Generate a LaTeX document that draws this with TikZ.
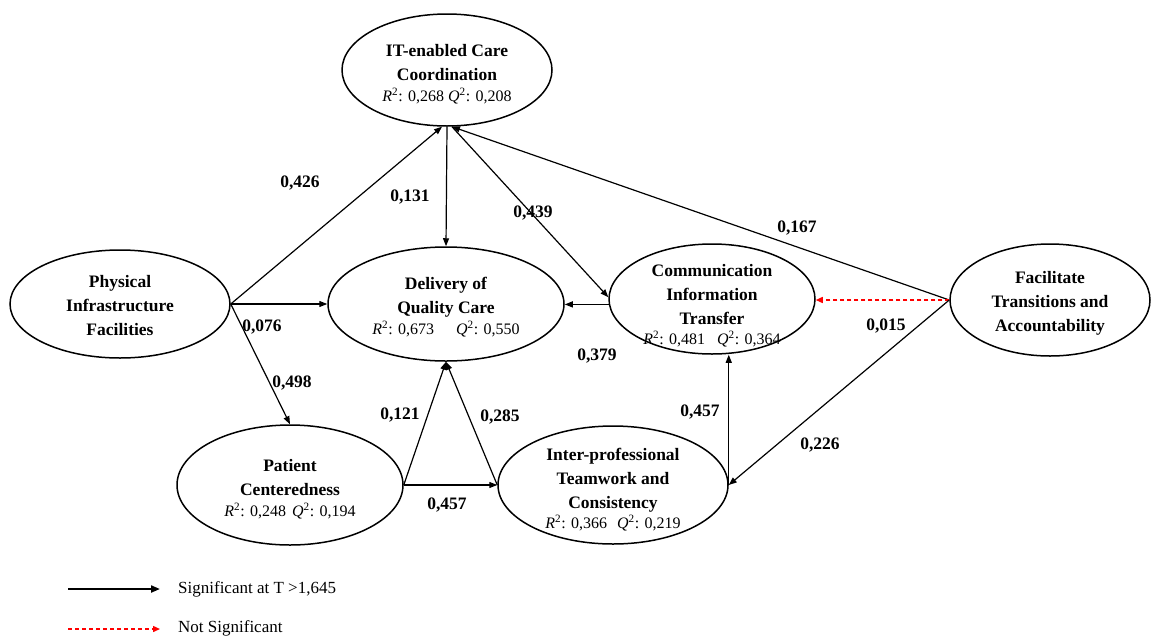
\documentclass[tikz,border=0pt]{standalone}
\usepackage{fontspec}
\setmainfont{Liberation Serif}
\usetikzlibrary{arrows.meta,shapes.geometric}
\newcommand{\RQline}[3]{{\mdseries\fontsize{16}{20}\selectfont\textit{R}\textsuperscript{2}: #1#2\textit{Q}\textsuperscript{2}: #3}}
\tikzset{
  lv/.style={ellipse, draw, line width=1.5pt, inner sep=0pt},
  txt/.style={align=center, inner sep=0pt, font=\fontsize{17.5}{24}\selectfont\bfseries},
  pth/.style={line width=1.2pt, -{Triangle[length=8pt,width=6pt]}},
  ns/.style={line width=1.4pt, red, dash pattern=on 4pt off 3pt, -{Triangle[length=7pt,width=6pt]}},
  coef/.style={inner sep=0pt, font=\fontsize{17.5}{20}\selectfont\bfseries},
  leg/.style={inner sep=0pt, anchor=west, font=\fontsize{17}{20}\selectfont},
}
\begin{document}
\begin{tikzpicture}[x=1pt,y=-1pt]
\useasboundingbox (0,0) rectangle (1161,635);
% constructs
\node[lv, minimum width=210pt, minimum height=112pt] (it)  at (447,70) {};
\node[lv, minimum width=220pt, minimum height=108pt] (phy) at (120,304) {};
\node[lv, minimum width=236pt, minimum height=114pt] (del) at (446,304) {};
\node[lv, minimum width=206pt, minimum height=110pt] (com) at (712,299) {};
\node[lv, minimum width=200pt, minimum height=112pt] (fac) at (1050,300) {};
\node[lv, minimum width=226pt, minimum height=120pt] (pat) at (290,485) {};
\node[lv, minimum width=230pt, minimum height=118pt] (int) at (613,485) {};
% texts
\node[txt] (itt)  at (447,74)  {IT-enabled Care\\Coordination\\[-3pt]\RQline{0,268}{ }{0,208}};
\node[txt] (phyt) at (120,306) {Physical\\Infrastructure\\Facilities};
\node[txt] (delt) at (446,307) {Delivery of\\Quality Care\\[-3pt]\RQline{0,673}{\hspace{22pt}}{0,550}};
\node[txt] (comt) at (712,306) {Communication\\Information\\Transfer\\[-4pt]\RQline{0,481}{\hspace{12pt}}{0,364}};
\node[txt] (fact) at (1050,303) {Facilitate\\Transitions and\\Accountability};
\node[txt] (patt) at (290,489) {Patient\\Centeredness\\[-3pt]\RQline{0,248}{\hspace{6pt}}{0,194}};
\node[txt] (intt) at (613,490) {Inter-professional\\Teamwork and\\Consistency\\[-4pt]\RQline{0,366}{\hspace{10pt}}{0,219}};
% paths
\draw[pth] (phy.east) -- (it.265);
\draw[pth] (phy.east) -- (del.west);
\draw[pth] (phy.east) -- (pat.north);
\draw[pth] (it.south) -- (del.north);
\draw[pth] (it.275) -- (com.179);
\draw[pth] (fac.west) -- (it.275);
\draw[pth] (com.183) -- (com.183 -| del.east);
\draw[ns]  (fac.west) -- (fac.west -| com.east);
\draw[pth] (fac.west) -- (int.east);
\draw[pth] (int.east) -- (int.east |- com.south);
\draw[pth] (pat.east) -- (del.south);
\draw[pth] (int.west) -- (del.south);
\draw[pth] (pat.east) -- (int.west);
% coefficients
\node[coef] (c426) at (300,183) {0,426};
\node[coef] (c131) at (410,197) {0,131};
\node[coef] (c439) at (533,213) {0,439};
\node[coef] (c167) at (797,228) {0,167};
\node[coef] (c076) at (262,327) {0,076};
\node[coef] (c379) at (597,356) {0,379};
\node[coef] (c015) at (886,326) {0,015};
\node[coef] (c498) at (292,383) {0,498};
\node[coef] (c121) at (400,415) {0,121};
\node[coef] (c285) at (500,417) {0,285};
\node[coef] (c457a) at (447,505) {0,457};
\node[coef] (c457b) at (700,412) {0,457};
\node[coef] (c226) at (820,445) {0,226};
% legend
\coordinate (sa) at (68,589);
\coordinate (sb) at (160,589);
\draw[line width=2pt, -{Triangle[length=9pt,width=7pt]}] (sa) -- (sb);
\node[leg] (lsig) at (178,589) {Significant at T >1,645};
\coordinate (na) at (68,629);
\coordinate (nb) at (160,629);
\draw[ns] (na) -- (nb);
\node[leg] (lns) at (178,628) {Not Significant};
\end{tikzpicture}
\end{document}
